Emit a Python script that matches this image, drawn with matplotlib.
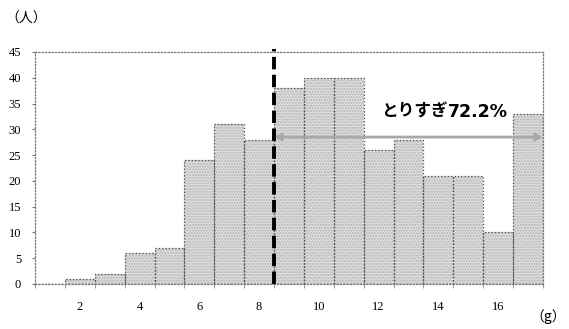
import matplotlib
matplotlib.use('Agg')
import matplotlib.pyplot as plt

# counts per weight class (g)
weights = list(range(1, 18))
counts = [0, 1, 2, 6, 7, 24, 31, 28, 38, 40, 40, 26, 28, 21, 21, 10, 33]
tick_vals = [2, 4, 6, 8, 10, 12, 14, 16]
yticks = [0, 5, 10, 15, 20, 25, 30, 35, 40, 45]
cutoff = 8.5
label_main = 'とりすぎ'
label_pct = '72.2%'

plt.rcParams['font.family'] = ['Liberation Serif', 'DejaVu Serif']
jp = ['Noto Sans CJK JP', 'DejaVu Sans']

fig = plt.figure(figsize=(5.69, 3.29), dpi=100)
ax = fig.add_axes([35 / 569, 1 - 284 / 329, 508 / 569, 232 / 329])

# stippled fill, then dotted outlines on top
ax.bar(weights, counts, width=1.0, color='#dedede', hatch='......',
       edgecolor='#b4b4b4', linewidth=0, zorder=2)
ax.bar(weights, counts, width=1.0, fill=False, edgecolor='#4a4a4a',
       linestyle=':', linewidth=0.9, zorder=3)

ax.set_xlim(0.5, 17.5)
ax.set_ylim(0, 45)

for side in ['left', 'bottom', 'top', 'right']:
    ax.spines[side].set_linestyle(':')
    ax.spines[side].set_color('#777777')
    ax.spines[side].set_linewidth(0.9)

ax.set_yticks(yticks)
ax.tick_params(axis='y', length=2, color='#777777', labelsize=9, pad=8)
ax.set_xticks(tick_vals)
ax.tick_params(axis='x', which='major', length=0, labelsize=9, pad=12)
ax.set_xticks([w + 0.5 for w in range(0, 18)], minor=True)
ax.tick_params(axis='x', which='minor', length=3, color='#888888')

# cutoff line
ax.plot([cutoff, cutoff], [0, 45.5], color='black', lw=2.8,
        linestyle=(0, (3.2, 1.4)), zorder=5, clip_on=False)

# range arrow above the cutoff
ax.annotate('', xy=(cutoff, 28.5), xytext=(17.5, 28.5),
            arrowprops=dict(arrowstyle='<->', color='#a8a8a8', lw=2.0,
                            shrinkA=0, shrinkB=0), zorder=6)
ax.text(12.07, 32.4, label_main, fontsize=12, fontweight='bold',
        family=jp, ha='left', va='baseline', zorder=7)
ax.text(14.32, 32.4, label_pct, fontsize=12.5, fontweight='bold',
        family=['DejaVu Sans'], ha='left', va='baseline', zorder=7)

fig.text(5 / 569, 1 - 19 / 329, '（人）', fontsize=10,
         family=jp, ha='left', va='center')
fig.text(566 / 569, 1 - 317 / 329, '（g）', fontsize=10,
         family=jp, ha='right', va='center')

fig.savefig('out.png', dpi=100)
